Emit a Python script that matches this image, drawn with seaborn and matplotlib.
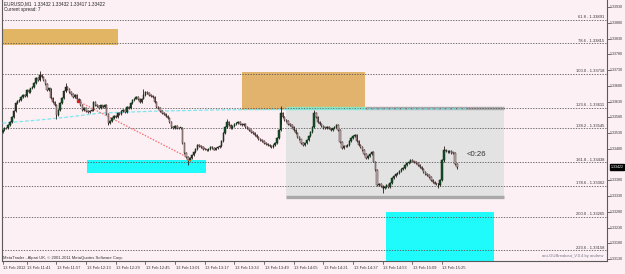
import numpy as np
import pandas as pd
import matplotlib
matplotlib.use("Agg")
import matplotlib.pyplot as plt
import seaborn as sns

# ---------------- data ----------------
header_text = "EURUSD,M1  1.33432 1.33432 1.33417 1.33422"
spread_text = "Current spread: 7"
current_price = 1.33422

first_open_pts = 33535
# closes of the M1 bars (price = 1 + pts / 1e5), first bar 11:28
close_pts = [
    33540, 33548, 33545, 33556, 33566, 33580, 33600, 33626, 33632, 33636,
    33645, 33652, 33648, 33667, 33660, 33672, 33677, 33690, 33705, 33700,
    33715, 33708, 33699, 33685, 33667, 33672, 33642, 33630, 33620, 33588,
    33605, 33625, 33642, 33665, 33677, 33670, 33661, 33655, 33645, 33650,
    33640, 33636, 33620, 33604, 33610, 33600, 33597, 33602, 33604, 33629,
    33620, 33615, 33610, 33618, 33612, 33620, 33590, 33563, 33570, 33578,
    33585, 33580, 33594, 33590, 33600, 33604, 33598, 33613, 33610, 33625,
    33636, 33640, 33645, 33638, 33629, 33640, 33650, 33661, 33658, 33652,
    33648, 33645, 33630, 33613, 33610, 33600, 33594, 33590, 33585, 33578,
    33565, 33550, 33547, 33552, 33545, 33547, 33547, 33499, 33467, 33455,
    33445, 33452, 33461, 33470, 33480, 33493, 33488, 33486, 33480, 33478,
    33477, 33480, 33485, 33483, 33478, 33482, 33486, 33490, 33505, 33530,
    33550, 33566, 33555, 33547, 33552, 33560, 33563, 33566, 33560, 33555,
    33558, 33550, 33545, 33540, 33534, 33530, 33525, 33518, 33512, 33509,
    33505, 33500, 33495, 33493, 33490, 33486, 33492, 33500, 33515, 33540,
    33594, 33580, 33572, 33568, 33560, 33556, 33550, 33540, 33530, 33518,
    33510, 33500, 33493, 33498, 33509, 33520, 33535, 33550, 33594, 33580,
    33566, 33560, 33552, 33547, 33545, 33550, 33545, 33540, 33545, 33550,
    33556, 33540, 33502, 33483, 33488, 33490, 33493, 33505, 33515, 33520,
    33524, 33505, 33493, 33485, 33477, 33465, 33451, 33458, 33465, 33470,
    33440, 33413, 33366, 33370, 33362, 33356, 33360, 33365, 33359, 33372,
    33388, 33395, 33400, 33404, 33410, 33416, 33420, 33428, 33435, 33439,
    33445, 33440, 33439, 33435, 33428, 33423, 33415, 33408, 33400, 33397,
    33390, 33382, 33375, 33370, 33368, 33366, 33380, 33445, 33477, 33472,
    33470, 33474, 33468, 33467, 33432, 33422,
]
# notable wicks
wick_bar = [20, 29, 34, 57, 76, 100, 121, 150, 168, 205, 235, 238, 245]
wick_high = [33728, 33605, 33690, 33580, 33670, 33455, 33575, 33615, 33605, 33362, 33372, 33490, 33432]
wick_low = [33700, 33575, 33660, 33555, 33645, 33430, 33545, 33560, 33560, 33340, 33355, 33440, 33417]

time_labels = ["13 Feb 2012", "13 Feb 11:41", "13 Feb 11:57", "13 Feb 12:13", "13 Feb 12:29",
               "13 Feb 12:45", "13 Feb 13:01", "13 Feb 13:17", "13 Feb 13:33", "13 Feb 13:49",
               "13 Feb 14:05", "13 Feb 14:21", "13 Feb 14:37", "13 Feb 14:53", "13 Feb 15:09",
               "13 Feb 15:25"]
time_label_bars = [0, 13, 29, 45, 61, 77, 93, 109, 125, 141, 157, 173, 189, 205, 221, 237]

price_ticks = [1.33930, 1.33880, 1.33830, 1.33780, 1.33730, 1.33680, 1.33630, 1.33580,
               1.33530, 1.33480, 1.33380, 1.33330, 1.33280, 1.33230, 1.33180, 1.33130]

fib_names = ["61.8", "78.6", "100.0", "123.6", "138.2", "161.8", "178.6", "200.0", "223.6"]
fib_prices = [1.33891, 1.33815, 1.33718, 1.33611, 1.33545, 1.33438, 1.33362, 1.33265, 1.33158]

# long average (light cyan dashed)
ma_bars = [0, 20, 35, 53, 83, 117, 180, 250]
ma_prices = [1.33562, 1.33572, 1.33581, 1.33594, 1.33600, 1.33604, 1.33606, 1.33607]

# red trend line
trend_bars = [40.7, 100.5]
trend_prices = [1.33632, 1.33451]

# zones: (bar0, bar1, price_low, price_high)
tan_zone1 = (-2, 62.2, 1.33810, 1.33861)
tan_zone2 = (129.1, 195.5, 1.33604, 1.33724)
cyan_zone1 = (45.5, 109.7, 1.33404, 1.33445)
cyan_zone2 = (206.8, 265.1, 1.33100, 1.33280)
grey_zone = (152.9, 270.4, 1.33328, 1.33610)

# ---------------- figure ----------------
W, H = 625, 274
sns.set_theme(style="white")
plt.rcParams['font.family'] = ['Liberation Sans', 'DejaVu Sans']

fig = plt.figure(figsize=(W / 100, H / 100), dpi=100)
fig.patch.set_facecolor('#fdf0f4')
ax = fig.add_axes([2 / W, 13 / H, 605 / W, 261 / H])
ax.set_facecolor('#fdf0f4')

ymax, ymin = 1.33953, 1.33124
ax.set_ylim(ymin, ymax)
ax.set_xlim(-0.32, 326.0)


def fx(xpix):
    return xpix / W


def fy(ypix):
    return 1 - ypix / H


def zone(z, color, alpha=1.0, z_order=1):
    ax.add_patch(plt.Rectangle((z[0], z[2]), z[1] - z[0], z[3] - z[2],
                               facecolor=color, edgecolor='none', alpha=alpha, zorder=z_order))


zone(grey_zone, '#e3e3e3')
zone(tan_zone1, '#e2b565')
zone(tan_zone2, '#e2b36c')
zone(cyan_zone1, '#1ffbfb')
zone(cyan_zone2, '#1ffbfb')
ax.hlines(grey_zone[3], 195.5, grey_zone[1], color='#a9a9a9', lw=2.4, zorder=2)
ax.hlines(grey_zone[3], grey_zone[0], 195.5, color='#8ee6c0', lw=2.4, zorder=2)
ax.hlines(grey_zone[2], grey_zone[0], grey_zone[1], color='#a9a9a9', lw=2.4, zorder=2)

# fib lines
for nm, pr in zip(fib_names, fib_prices):
    ax.axhline(pr, color='#5a5a5a', lw=0.6, ls=(0, (1.6, 1.6)), zorder=2)
    ax.text(324.5, pr + 0.00002, f"{nm} - {pr:.5f}", ha='right', va='bottom',
            fontsize=3.0, color='#333333', zorder=6)

# moving average line
sns.lineplot(x=ma_bars, y=ma_prices, ax=ax, color='#7ee6ee', lw=0.9,
             linestyle=(0, (3, 1.5)), zorder=3)
# trend line
sns.lineplot(x=trend_bars, y=trend_prices, ax=ax, color='#f07070', lw=0.9,
             linestyle=(0, (1.2, 1.2)), zorder=3)
ax.plot([trend_bars[0]], [trend_prices[0]], marker='s', ms=1.6, color='#e02020', zorder=5)
ax.plot([trend_bars[1]], [trend_prices[1] - 0.00003], marker='s', ms=1.6, color='#f0a020', zorder=5)

# candles
closes = 1 + np.array(close_pts) / 1e5
opens = np.concatenate([[1 + first_open_pts / 1e5], closes[:-1]])
idx = np.arange(len(closes))
df = pd.DataFrame({"bar": idx, "open": opens, "close": closes})
bull = (df["close"] >= df["open"]).to_numpy()
lo = np.minimum(opens, closes)
hi = np.maximum(opens, closes)
ax.vlines(idx, lo - 0.00003, hi + 0.00003, color='#2a1e1e', lw=0.6, zorder=4)
wb = np.array(wick_bar)
ax.vlines(wb, 1 + np.array(wick_low) / 1e5, 1 + np.array(wick_high) / 1e5,
          color='#2a1e1e', lw=0.6, zorder=4)
hgt = np.where(np.abs(closes - opens) < 0.00002, 0.00002, closes - opens)
ax.bar(idx[bull], hgt[bull], bottom=opens[bull], width=0.75,
       color='#16502a', edgecolor='#0c2a12', linewidth=0.35, zorder=5)
ax.bar(idx[~bull], hgt[~bull], bottom=opens[~bull], width=0.75,
       color='#c4b2b6', edgecolor='#4a2a2a', linewidth=0.35, zorder=5)

# timer text
ax.text(250.5, 1.33461, "<0:26", fontsize=5.6, color='#333333', va='center', ha='left', zorder=6)

# axes styling
ax.set_xticks([])
ax.set_yticks([])
for s in ['left', 'bottom', 'right']:
    ax.spines[s].set_visible(True)
    ax.spines[s].set_color('#5a5a5a')
    ax.spines[s].set_linewidth(0.8)
ax.spines['top'].set_visible(False)

# right price scale
for p in price_ticks:
    ypix = (ymax - p) / (ymax - ymin) * 261
    fig.lines.append(plt.Line2D([fx(607), fx(609.5)], [fy(ypix), fy(ypix)],
                                transform=fig.transFigure, color='#5a5a5a', lw=0.6))
    fig.text(fx(610), fy(ypix), f"{p:.5f}", fontsize=2.6, color='#333333', va='center', ha='left')
ycur = (ymax - current_price) / (ymax - ymin) * 261
fig.text(fx(610.5), fy(ycur), f"{current_price:.5f}", fontsize=2.6, color='white', va='center',
         ha='left', bbox=dict(boxstyle='square,pad=0.2', fc='black', ec='black'))

# time scale
for lab, b in zip(time_labels, time_label_bars):
    xpix = 2.6 + b * 1.854
    fig.lines.append(plt.Line2D([fx(xpix), fx(xpix)], [fy(261), fy(264)],
                                transform=fig.transFigure, color='#5a5a5a', lw=0.6))
    fig.text(fx(xpix + 0.5), fy(268), lab, fontsize=2.9, color='#333333', va='center', ha='left')

# header texts
fig.text(fx(4), fy(4), header_text, fontsize=3.3, color='#222222', va='center', ha='left')
fig.text(fx(4), fy(10), spread_text, fontsize=3.3, color='#222222', va='center', ha='left')
fig.text(fx(3), fy(257.5), "MetaTrader - Alpari UK, \u00a9 2001-2011 MetaQuotes Software Corp.",
         fontsize=3.0, color='#333333', va='center', ha='left')
fig.text(fx(603), fy(255.5), "ant-GUBreakout_V.0.4 by andrew", fontsize=3.0, color='#777788',
         va='center', ha='right')

fig.savefig("out.png", dpi=100, facecolor=fig.get_facecolor())
